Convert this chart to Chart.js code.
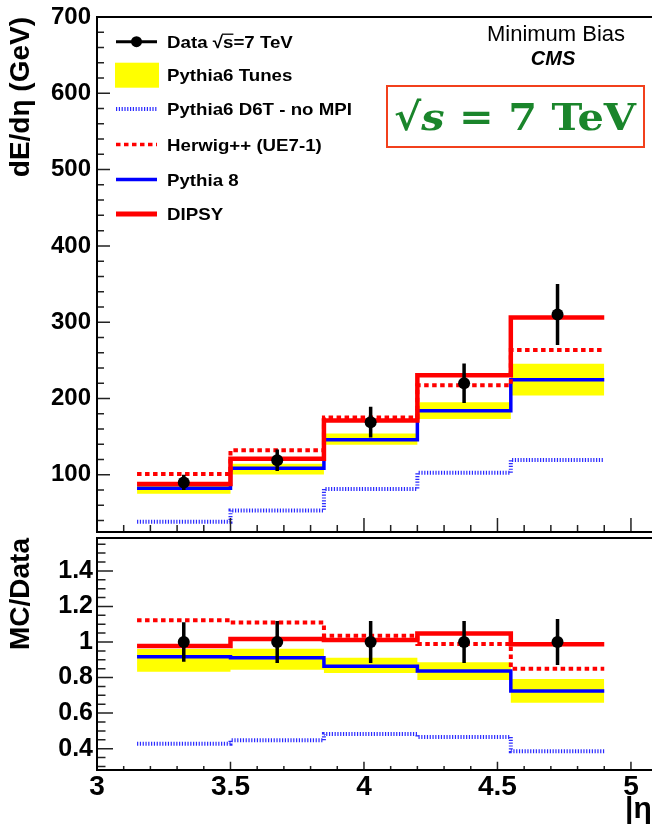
<!DOCTYPE html>
<html>
<head>
<meta charset="utf-8">
<title>dE/deta - Minimum Bias CMS 7 TeV</title>
<script src="https://cdn.jsdelivr.net/npm/chart.js@4.4.1/dist/chart.umd.min.js"></script>
<style>
  html, body { margin: 0; padding: 0; background: #fff; }
  body { width: 652px; height: 824px; overflow: hidden; position: relative; }
  .pane { position: absolute; left: 0; width: 675px; }
  #topPane { top: 0; height: 536px; }
  #ratioPane { top: 536px; height: 288px; }
</style>
</head>
<body>
<div class="pane" id="topPane"><canvas id="mainChart"></canvas></div>
<div class="pane" id="ratioPane"><canvas id="ratioChart"></canvas></div>
<script>
// bins in |eta|
const binEdges = [3.15, 3.5, 3.85, 4.2, 4.55, 4.9];
const binCenters = [3.325, 3.675, 4.025, 4.375, 4.725];

// dE/deta (GeV)
const dataVals = [90, 119, 169, 220, 310];
const dataErr = [10, 14, 20, 26, 40];
const dipsy = [88, 121, 171, 230.5, 306];
const herwig = [101, 132, 175, 217.5, 263.5];
const pythia8 = [82.5, 108.5, 146, 184, 224.5];
const d6tNoMpi = [38.5, 53.2, 81.5, 102.5, 119.5];
const tunesLow = [75, 100.5, 139.5, 173, 204];
const tunesHigh = [86.5, 114.5, 154, 195, 245.5];

// axes
const xTicks = [3, 3.5, 4, 4.5, 5];
const xLabels = ["3", "3.5", "4", "4.5", "5"];
const yTicksTop = [100, 200, 300, 400, 500, 600, 700];
const yTicksRatio = [0.4, 0.6, 0.8, 1, 1.2, 1.4];
const yLabelsRatio = ["0.4", "0.6", "0.8", "1", "1.2", "1.4"];

const legendLabels = ["Data \u221As=7 TeV", "Pythia6 Tunes", "Pythia6 D6T - no MPI",
  "Herwig++ (UE7-1)", "Pythia 8", "DIPSY"];

const SANS = '"Liberation Sans", Arial, Helvetica, sans-serif';
const D6T_BLUE = "#2a2aff";

// histogram -> points for a stepped line
function stepPoints(vals) {
  const pts = vals.map((v, i) => ({ x: binEdges[i], y: v }));
  pts.push({ x: binEdges[vals.length], y: vals[vals.length - 1] });
  return pts;
}

function hist(vals, color, width, dash) {
  return {
    data: stepPoints(vals), borderColor: color, borderWidth: width, borderDash: dash || [],
    stepped: "before", pointRadius: 0, fill: false, borderCapStyle: "butt", borderJoinStyle: "miter"
  };
}

function buildDatasets(scaleBy) {
  const r = arr => arr.map((v, i) => scaleBy ? v / dataVals[i] : v);
  const pts = binCenters.map((x, i) => ({ x, y: scaleBy ? 1 : dataVals[i] }));
  return [
    { data: pts, showLine: false, pointRadius: 6, pointBackgroundColor: "#000", pointBorderWidth: 0 },
    hist(r(dipsy), "#ff0000", 4.5),
    hist(r(herwig), "#ff0000", 4, [4.5, 3.5]),
    hist(r(pythia8), "#0000ff", 3.5),
    hist(r(d6tNoMpi), D6T_BLUE, 4, [1.2, 1.6]),
    Object.assign(hist(r(tunesHigh), "rgba(0,0,0,0)", 0), { fill: "+1", backgroundColor: "#ffff00" }),
    hist(r(tunesLow), "rgba(0,0,0,0)", 0)
  ];
}

function txt(ctx, s, x, y, font, align, sx) {
  ctx.save();
  ctx.font = font;
  ctx.textAlign = align || "left";
  ctx.textBaseline = "alphabetic";
  ctx.translate(x, y);
  ctx.scale(sx || 1, 1);
  ctx.fillText(s, 0, 0);
  ctx.restore();
}

function seg(ctx, x0, y0, x1, y1, color, w, dash) {
  ctx.save();
  ctx.strokeStyle = color;
  ctx.lineWidth = w;
  ctx.setLineDash(dash || []);
  ctx.beginPath();
  ctx.moveTo(x0, y0);
  ctx.lineTo(x1, y1);
  ctx.stroke();
  ctx.restore();
}

// frame plus ROOT-style inward ticks
const rootAxes = {
  id: "rootAxes",
  afterDraw(chart, args, o) {
    const { ctx, chartArea: a, scales: { x, y } } = chart;
    const minors = (min, max, step) => {
      const out = [];
      for (let k = Math.ceil(min / step - 1e-9); k * step <= max + 1e-9; k++) out.push(k * step);
      return out;
    };
    ctx.save();
    ctx.strokeStyle = "#222";
    ctx.lineWidth = 1.5;
    ctx.beginPath();
    minors(y.min, y.max, o.yMinorStep).forEach(v => {
      const p = y.getPixelForValue(v);
      ctx.moveTo(a.left, p); ctx.lineTo(a.left + o.yMinorLen, p);
    });
    o.yMajor.forEach(v => {
      const p = y.getPixelForValue(v);
      ctx.moveTo(a.left, p); ctx.lineTo(a.left + o.yMajorLen, p);
    });
    minors(x.min, x.max, o.xMinorStep).forEach(v => {
      const p = x.getPixelForValue(v);
      ctx.moveTo(p, a.bottom); ctx.lineTo(p, a.bottom - o.xMinorLen);
    });
    o.xMajor.forEach(v => {
      const p = x.getPixelForValue(v);
      ctx.moveTo(p, a.bottom); ctx.lineTo(p, a.bottom - o.xMajorLen);
    });
    ctx.stroke();
    ctx.strokeStyle = "#000";
    ctx.lineWidth = 2;
    ctx.strokeRect(a.left, a.top, a.right - a.left + 5, a.bottom - a.top);
    ctx.restore();
  }
};

const errBars = {
  id: "errBars",
  afterDatasetsDraw(chart, args, o) {
    const { ctx, scales: { x, y } } = chart;
    ctx.save();
    ctx.strokeStyle = "#000";
    ctx.lineWidth = 3.5;
    ctx.beginPath();
    o.xs.forEach((xv, i) => {
      const px = x.getPixelForValue(xv);
      ctx.moveTo(px, y.getPixelForValue(o.ys[i] - o.errs[i]));
      ctx.lineTo(px, y.getPixelForValue(o.ys[i] + o.errs[i]));
    });
    ctx.stroke();
    ctx.restore();
  }
};

const legendBox = {
  id: "legendBox",
  afterDraw(chart) {
    const ctx = chart.ctx;
    const rows = [41.7, 75.3, 109, 144.5, 179.5, 214];
    const x0 = 116, x1 = 157, tx = 167;
    const legFont = "bold 17px " + SANS;

    seg(ctx, x0, rows[0], x1, rows[0], "#000", 3);
    ctx.save();
    ctx.fillStyle = "#000";
    ctx.beginPath();
    ctx.arc(136.5, rows[0], 5.5, 0, Math.PI * 2);
    ctx.fill();
    ctx.fillStyle = "#ffff00";
    ctx.fillRect(115, 62.7, 44, 25);
    ctx.restore();
    seg(ctx, x0, rows[2], x1, rows[2], D6T_BLUE, 4, [1.2, 1.6]);
    seg(ctx, x0, rows[3], x1, rows[3], "#ff0000", 3.5, [4.5, 3.5]);
    seg(ctx, x0, rows[4], x1, rows[4], "#0000ff", 3.5);
    seg(ctx, x0, rows[5], x1, rows[5], "#ff0000", 5);

    ctx.save();
    ctx.fillStyle = "#000";
    legendLabels.forEach((s, i) => txt(ctx, s, tx, rows[i] + 6, legFont, "left", 1.1));
    // bar over the "s" of sqrt(s)
    ctx.font = legFont;
    const w1 = ctx.measureText("Data \u221A").width * 1.1;
    const w2 = ctx.measureText("s").width * 1.1;
    seg(ctx, tx + w1 - 1, rows[0] - 7.5, tx + w1 + w2, rows[0] - 7.5, "#000", 1.3);

    txt(ctx, "Minimum Bias", 556, 40.7, "22px " + SANS, "center");
    txt(ctx, "CMS", 553, 65, "italic bold 20px " + SANS, "center");
    ctx.restore();

    // sqrt(s) = 7 TeV box
    ctx.save();
    ctx.strokeStyle = "#f2401c";
    ctx.lineWidth = 2;
    ctx.fillStyle = "#fff";
    ctx.fillRect(387, 86, 257, 61);
    ctx.strokeRect(387, 86, 257, 61);
    const fR = 'bold 38px "DejaVu Serif", "Liberation Serif", serif';
    const fI = 'italic bold 38px "DejaVu Serif", "Liberation Serif", serif';
    ctx.font = fR;
    const wRad = ctx.measureText("\u221A").width;
    const wRest = ctx.measureText(" = 7 TeV").width;
    ctx.font = fI;
    const wS = ctx.measureText("s").width;
    const sx = 242 / (wRad + wS + wRest);
    ctx.translate(394, 130);
    ctx.scale(sx, 1);
    ctx.fillStyle = "#1a852b";
    ctx.textBaseline = "alphabetic";
    ctx.font = fR;
    ctx.fillText("\u221A", 0, 0);
    ctx.font = fI;
    ctx.fillText("s", wRad, 0);
    ctx.font = fR;
    ctx.fillText(" = 7 TeV", wRad + wS, 0);
    ctx.restore();
  }
};

const etaTitle = {
  id: "etaTitle",
  afterDraw(chart) {
    const ctx = chart.ctx;
    ctx.save();
    ctx.fillStyle = "#000";
    txt(ctx, "|\u03B7|", 625, 282, "bold 30px " + SANS, "left");
    ctx.restore();
  }
};

function yAxis(min, max, ticks, labels, title, fontSize, pad) {
  return {
    type: "linear", min, max,
    afterFit(s) {
      s.width = 97;
      s.paddingTop = 0;
      s.paddingBottom = 0;
    },
    afterBuildTicks(s) { s.ticks = ticks.map(v => ({ value: v })); },
    grid: { display: false, drawTicks: false },
    border: { display: false },
    ticks: {
      autoSkip: false, padding: pad, color: "#000",
      font: { family: SANS, weight: "bold", size: fontSize },
      callback: (v, i) => labels ? labels[i] : String(v)
    },
    title: {
      display: true, text: title, align: "end", color: "#000",
      font: { family: SANS, weight: "bold", size: 28 },
      padding: { top: 4, bottom: 0 }
    }
  };
}

const common = {
  responsive: true,
  maintainAspectRatio: false,
  animation: false,
  events: [],
  elements: { line: { tension: 0 } }
};

new Chart(document.getElementById("mainChart"), {
  type: "line",
  data: { datasets: buildDatasets(false) },
  options: Object.assign({}, common, {
    layout: { autoPadding: false, padding: { top: 17, bottom: 4, left: 0, right: 0 } },
    scales: {
      x: { type: "linear", min: 3, max: 5.165, display: false },
      y: yAxis(25, 700, yTicksTop, null, "dE/d\u03B7 (GeV)", 24, 6)
    },
    plugins: {
      legend: { display: false },
      tooltip: { enabled: false },
      rootAxes: { xMajor: xTicks, xMinorStep: 0.1, xMajorLen: 14, xMinorLen: 7,
        yMajor: yTicksTop, yMinorStep: 20, yMajorLen: 13, yMinorLen: 7 },
      errBars: { xs: binCenters, ys: dataVals, errs: dataErr }
    }
  }),
  plugins: [rootAxes, errBars, legendBox]
});

new Chart(document.getElementById("ratioChart"), {
  type: "line",
  data: { datasets: buildDatasets(true) },
  options: Object.assign({}, common, {
    layout: { autoPadding: false, padding: { top: 2, bottom: 0, left: 0, right: 0 } },
    scales: {
      x: {
        type: "linear", min: 3, max: 5.165,
        afterFit(s) {
          s.height = 54;
          s.paddingLeft = 0;
          s.paddingRight = 0;
        },
        afterBuildTicks(s) { s.ticks = xTicks.map(v => ({ value: v })); },
        grid: { display: false, drawTicks: false },
        border: { display: false },
        ticks: {
          autoSkip: false, maxRotation: 0, padding: 0, color: "#000",
          font: { family: SANS, weight: "bold", size: 28 },
          callback: (v, i) => xLabels[i]
        }
      },
      y: yAxis(0.28, 1.585, yTicksRatio, yLabelsRatio, "MC/Data", 25, 4)
    },
    plugins: {
      legend: { display: false },
      tooltip: { enabled: false },
      rootAxes: { xMajor: xTicks, xMinorStep: 0.1, xMajorLen: 8.3, xMinorLen: 4,
        yMajor: yTicksRatio, yMinorStep: 0.05, yMajorLen: 16, yMinorLen: 8.5 },
      errBars: { xs: binCenters, ys: dataVals.map(() => 1), errs: dataErr.map((e, i) => e / dataVals[i]) }
    }
  }),
  plugins: [rootAxes, errBars, etaTitle]
});
</script>
</body>
</html>
